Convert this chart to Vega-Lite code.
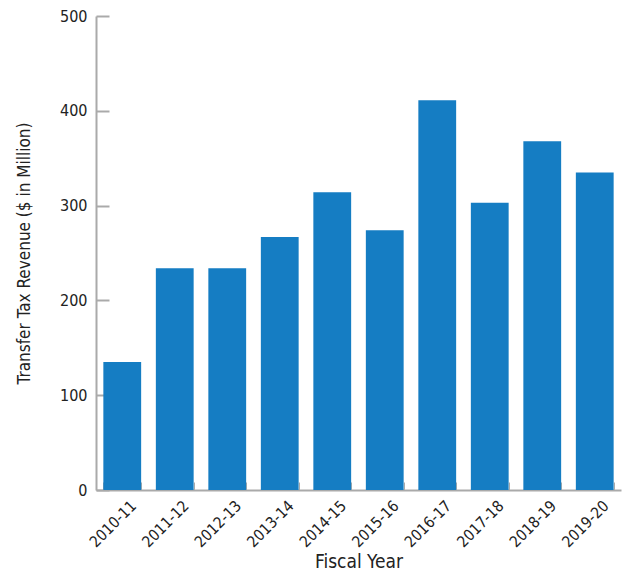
{
  "$schema": "https://vega.github.io/schema/vega-lite/v6.json",
  "width": 525,
  "height": 474,
  "autosize": {"type": "none"},
  "padding": {"left": 96, "top": 16, "right": 3, "bottom": 85},
  "background": "white",
  "config": {
    "view": {"stroke": null},
    "font": "DejaVu Sans Condensed, Roboto, sans-serif",
    "axis": {
      "labelFont": "DejaVu Sans Condensed, Roboto, sans-serif",
      "titleFont": "DejaVu Sans Condensed, Roboto, sans-serif",
      "labelColor": "#222222",
      "titleColor": "#222222",
      "domainColor": "#aaaaaa",
      "tickColor": "#aaaaaa",
      "titleFontWeight": "normal",
      "grid": false
    }
  },
  "data": {
    "values": [
      {"year": "2010-11", "revenue": 135},
      {"year": "2011-12", "revenue": 234},
      {"year": "2012-13", "revenue": 234},
      {"year": "2013-14", "revenue": 267},
      {"year": "2014-15", "revenue": 314},
      {"year": "2015-16", "revenue": 274},
      {"year": "2016-17", "revenue": 411},
      {"year": "2017-18", "revenue": 303},
      {"year": "2018-19", "revenue": 368},
      {"year": "2019-20", "revenue": 335}
    ]
  },
  "mark": {"type": "bar", "color": "#157dc3"},
  "encoding": {
    "x": {
      "field": "year",
      "type": "nominal",
      "sort": null,
      "scale": {"paddingInner": 0.28, "paddingOuter": 0.14},
      "axis": {
        "title": "Fiscal Year",
        "titleFontSize": 19,
        "titlePadding": 2,
        "labelAngle": -45,
        "labelFontSize": 15.5,
        "labelOffset": 6,
        "tickBand": "extent",
        "tickSize": -8,
        "labelPadding": 16,
        "domainWidth": 2
      }
    },
    "y": {
      "field": "revenue",
      "type": "quantitative",
      "scale": {"domain": [0, 500]},
      "axis": {
        "title": "Transfer Tax Revenue ($ in Million)",
        "titleFontSize": 17,
        "titlePadding": 26,
        "values": [0, 100, 200, 300, 400, 500],
        "labelFontSize": 16,
        "tickSize": -13,
        "labelPadding": 22,
        "domainWidth": 2,
        "tickWidth": 2
      }
    }
  }
}
